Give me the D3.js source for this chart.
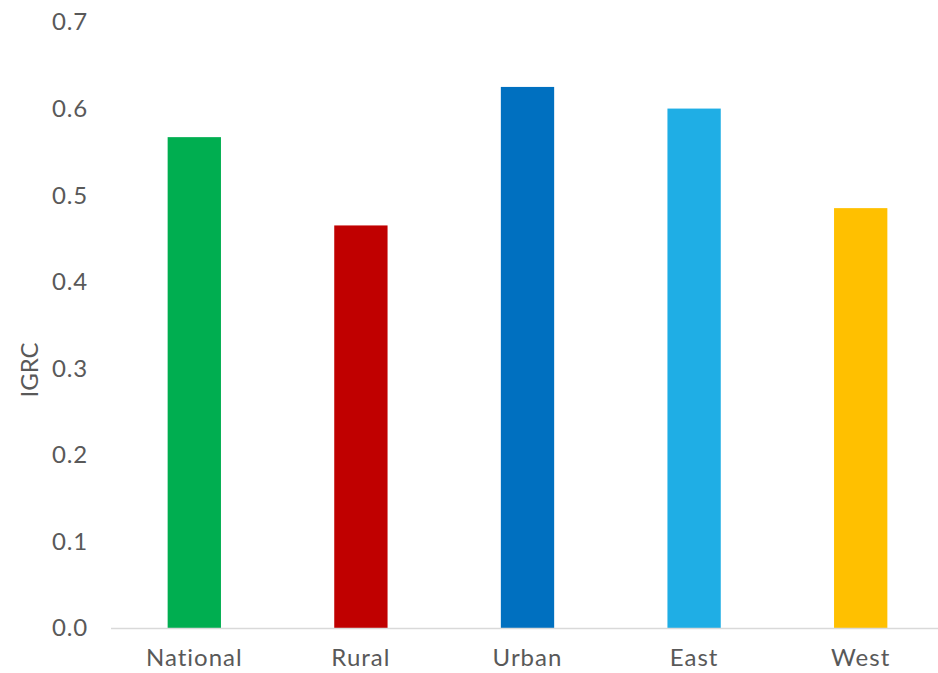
<!DOCTYPE html>
<html><head><meta charset="utf-8">
<script src="https://cdn.jsdelivr.net/npm/d3@7"></script>
<style>body{margin:0;background:#fff}svg{display:block}</style>
</head><body>
<script>
const categories = ["National","Rural","Urban","East","West"];
const values = [0.567, 0.465, 0.625, 0.600, 0.485];
const colors = ["#00AE50","#C00000","#0070C0","#1FAEE5","#FFC000"];
const yTicks = [0,0.1,0.2,0.3,0.4,0.5,0.6,0.7];
const yLabel = "IGRC";

const W=938,H=673;
const svg=d3.select("body").append("svg").attr("width",W).attr("height",H);
const x=d3.scaleBand().domain(categories).range([111,944]).padding(0);
const y=d3.scaleLinear().domain([0,0.7]).range([628,22]);
const bw=x.bandwidth()*0.32;
const font="'Lato', 'Open Sans', sans-serif";

svg.selectAll("rect.bar").data(values).enter().append("rect")
 .attr("x",(d,i)=>x(categories[i])+x.bandwidth()/2-bw/2)
 .attr("y",d=>y(d)).attr("width",bw).attr("height",d=>y(0)-y(d))
 .attr("fill",(d,i)=>colors[i]);

svg.append("line").attr("x1",111).attr("x2",938).attr("y1",y(0)+0.5).attr("y2",y(0)+0.5)
 .attr("stroke","#D9D9D9").attr("stroke-width",1.5);

svg.selectAll("text.yt").data(yTicks).enter().append("text")
 .attr("x",88).attr("y",d=>y(d)).attr("dy","0.35em").attr("text-anchor","end")
 .attr("font-family",font).attr("font-size",24).attr("letter-spacing",0.8).attr("fill","#595959")
 .text(d=>d3.format(".1f")(d));

svg.selectAll("text.xt").data(categories).enter().append("text")
 .attr("x",d=>x(d)+x.bandwidth()/2).attr("y",658).attr("dy","0.35em").attr("text-anchor","middle")
 .attr("font-family",font).attr("font-size",24).attr("letter-spacing",1).attr("fill","#595959")
 .text(d=>d);

svg.append("text").attr("transform","translate(30,370) rotate(-90)")
 .attr("text-anchor","middle").attr("dy","0.35em")
 .attr("font-family",font).attr("font-size",24).attr("fill","#595959").text(yLabel);
</script>
</body></html>
